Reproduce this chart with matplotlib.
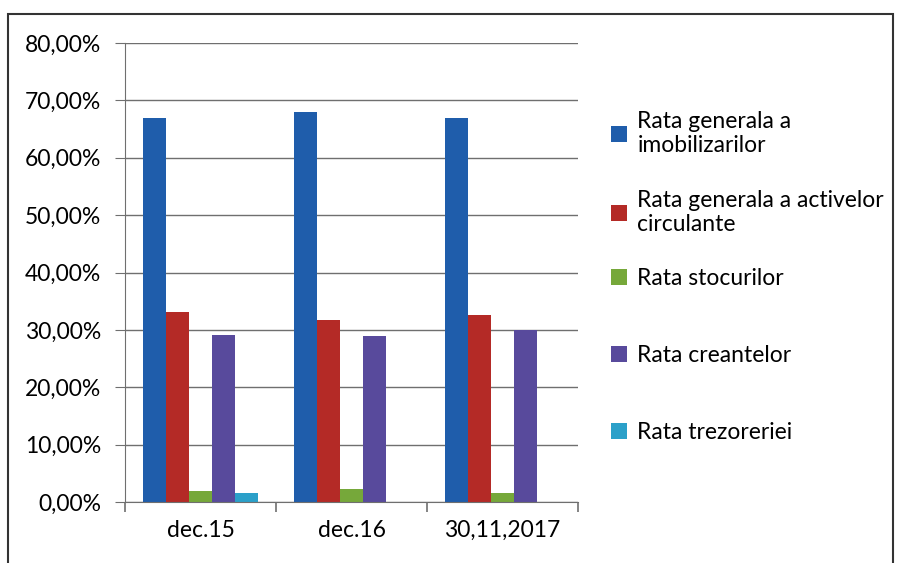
import matplotlib.pyplot as plt
import numpy as np
from matplotlib.patches import Rectangle
from matplotlib.legend import Legend

plt.rcParams['font.family'] = ['Lato', 'DejaVu Sans']

categories = ["dec.15", "dec.16", "30,11,2017"]
series_names = ["Rata generala a\nimobilizarilor",
                "Rata generala a activelor\ncirculante",
                "Rata stocurilor",
                "Rata creantelor",
                "Rata trezoreriei"]
imobilizari = [66.9, 67.9, 66.9]
active_circ = [33.1, 31.7, 32.6]
stocuri = [1.9, 2.3, 1.6]
creante = [29.1, 28.9, 30.0]
trezorerie = [1.6, 0.0, 0.0]
y_ticks = [0, 10, 20, 30, 40, 50, 60, 70, 80]

colors = ['#1f5dab', '#b42a26', '#76a83a', '#584a9c', '#2ba0c9']
values = [imobilizari, active_circ, stocuri, creante, trezorerie]

fig = plt.figure(figsize=(8.97, 5.63), dpi=100)
ax = fig.add_axes([0.1394, 0.1083, 0.505, 0.8153])

x = np.arange(len(categories))
w = 0.152
handles = []
for i, (vals, c) in enumerate(zip(values, colors)):
    b = ax.bar(x + (i - 2) * w, vals, width=w, color=c, edgecolor='none')
    handles.append(b)

ax.set_ylim(0, 80)
ax.set_xlim(-0.5, 2.5)
ax.set_yticks(y_ticks)
ax.set_yticklabels([f"{v:.2f}%".replace('.', ',') for v in y_ticks], fontsize=16.5)
ax.yaxis.grid(True, color='#6f6f6f', linewidth=1)
ax.set_axisbelow(True)
ax.set_xticks(x)
ax.set_xticklabels(categories, fontsize=16.5)
ax.tick_params(axis='x', length=0, pad=13)
ax.tick_params(axis='y', length=7, color='#6f6f6f', pad=10)
# category boundary ticks
ax.set_xticks([-0.5, 0.5, 1.5, 2.5], minor=True)
ax.tick_params(axis='x', which='minor', length=7, color='#6f6f6f', width=1.2)
for s in ['top', 'right']:
    ax.spines[s].set_visible(False)
for s in ['left', 'bottom']:
    ax.spines[s].set_color('#6f6f6f')

# legend entries placed one by one
leg_y = [111, 190, 268, 345, 422]
for h, name, yy in zip(handles, series_names, leg_y):
    lg = Legend(ax, [h], [name], loc='upper left',
                bbox_to_anchor=(611 / 897, 1 - yy / 563),
                bbox_transform=fig.transFigure, frameon=False,
                fontsize=16.5, handlelength=0.7, handleheight=0.7,
                handletextpad=0.45, borderpad=0, borderaxespad=0)
    ax.add_artist(lg)

fig.patches.append(Rectangle((8 / 897, -0.05), 885 / 897, 1.05 - 14 / 563,
                             transform=fig.transFigure, fill=False,
                             edgecolor='#333333', linewidth=1.5))

fig.savefig('out.png', dpi=100)
